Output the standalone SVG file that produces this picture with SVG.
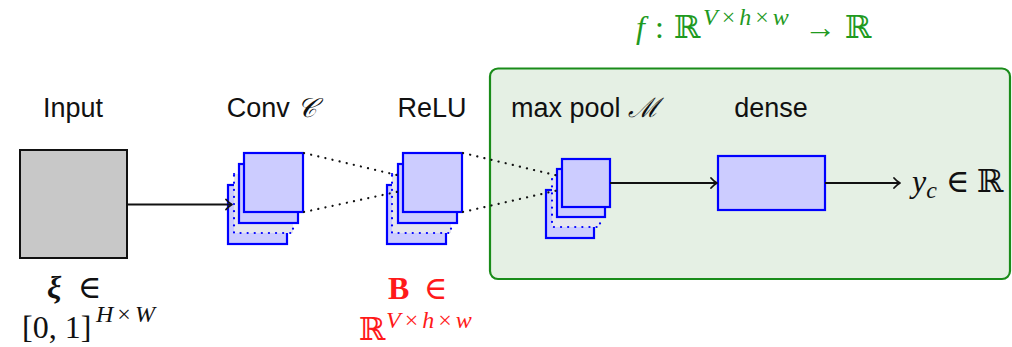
<svg xmlns="http://www.w3.org/2000/svg" width="1012" height="347" viewBox="0 0 1012 347">
<defs>
<style>
.lbl{font-family:"Liberation Sans",Arial,sans-serif;font-size:27px;fill:#111;text-anchor:middle}
.m{font-family:"Liberation Serif","DejaVu Serif",serif;font-size:32px;fill:#111}
.mi{font-style:italic}
.sup{font-size:24px}
.fm{fill:#ccccff;stroke:#0000ff;stroke-width:2.2}
.fd{fill:#e6e6ee;stroke:#0000ff;stroke-width:2.2;stroke-dasharray:0.1 7;stroke-linecap:round}
.dot{fill:none;stroke:#111;stroke-width:2.2;stroke-dasharray:0.1 7.2;stroke-linecap:round}
.ar{fill:none;stroke:#111;stroke-width:2}
.ah{fill:none;stroke:#111;stroke-width:1.8;stroke-linecap:round;stroke-linejoin:round}
</style>
</defs>
<g id="region-f">
<rect x="490" y="68.5" width="520" height="210.5" rx="8" fill="#e5f0e4" stroke="#1a8c1a" stroke-width="2.2"/>
<text y="38" class="m" style="fill:#1f9a1f"><tspan x="636" class="mi">f</tspan><tspan x="655">:</tspan><tspan x="674">ℝ</tspan><tspan x="703" class="mi sup" dy="-13">V</tspan><tspan dx="4" class="sup">×</tspan><tspan dx="4" class="mi sup">h</tspan><tspan dx="4" class="sup">×</tspan><tspan dx="4" class="mi sup">w</tspan><tspan x="804" dy="13">→</tspan><tspan x="845">ℝ</tspan></text>
</g>
<g id="input">
<text x="73" y="117" class="lbl">Input</text>
<rect x="20" y="150" width="107" height="108" fill="#c8c8c8" stroke="#111" stroke-width="2"/>
<text y="298" class="m"><tspan x="47" font-weight="bold" class="mi">ξ</tspan><tspan x="78">∈</tspan></text>
<text y="338" class="m"><tspan x="22">[0, 1]</tspan><tspan x="96" class="mi sup" dy="-16">H</tspan><tspan dx="4" class="sup">×</tspan><tspan dx="4" class="mi sup">W</tspan></text>
</g>
<g id="conv">
<text x="272" y="117" class="lbl">Conv <tspan font-family="'DejaVu Serif',serif" font-style="italic">𝒞</tspan></text>
<rect x="228" y="185" width="59" height="59" class="fm"/>
<rect x="234" y="174" width="59" height="59" class="fd"/>
<rect x="239" y="164" width="59" height="59" class="fm"/>
<rect x="244" y="153" width="59" height="59" class="fm"/>
</g>
<g id="relu">
<text x="432" y="117" class="lbl">ReLU</text>
<rect x="387" y="185" width="59" height="59" class="fm"/>
<rect x="392" y="174" width="59" height="59" class="fd"/>
<rect x="398" y="164" width="59" height="59" class="fm"/>
<rect x="403" y="153" width="59" height="59" class="fm"/>
<text y="299" class="m" style="fill:#ff1a1a"><tspan x="388" font-weight="bold">B</tspan><tspan x="424">∈</tspan></text>
<text y="340" class="m" style="fill:#ff1a1a"><tspan x="359">ℝ</tspan><tspan x="386" class="mi sup" dy="-12">V</tspan><tspan dx="4" class="sup">×</tspan><tspan dx="4" class="mi sup">h</tspan><tspan dx="4" class="sup">×</tspan><tspan dx="4" class="mi sup">w</tspan></text>
</g>
<g id="maxpool">
<text x="585" y="117" class="lbl">max pool <tspan font-family="'DejaVu Serif',serif" font-style="italic">ℳ</tspan></text>
<rect x="546" y="190" width="48" height="48" class="fm"/>
<rect x="552" y="179" width="48" height="48" class="fd"/>
<rect x="557" y="169" width="48" height="48" class="fm"/>
<rect x="562" y="159" width="48" height="48" class="fm"/>
</g>
<g id="dense">
<text x="771" y="117" class="lbl">dense</text>
<rect x="718" y="156" width="107" height="54" class="fm"/>
</g>
<g id="output">
<text y="192" class="m"><tspan x="912" class="mi">y</tspan><tspan class="mi sup" dy="6">c</tspan><tspan x="946" dy="-6">∈</tspan><tspan x="977">ℝ</tspan></text>
</g>
<g id="connectors">
<path class="ar" d="M127 204.5H231"/>
<path class="ah" d="M226 199.5Q229 203 232 204.5Q229 206 226 209.5"/>
<path class="ar" d="M610 183H716"/>
<path class="ah" d="M711 178Q714 181.5 717 183Q714 184.5 711 188"/>
<path class="ar" d="M825 183H899"/>
<path class="ah" d="M894 178Q897 181.5 900 183Q897 184.5 894 188"/>
<path class="dot" d="M304 153L401 176"/>
<path class="dot" d="M304 212L401 191"/>
<path class="dot" d="M463 153L559 176"/>
<path class="dot" d="M463 212L559 190"/>
</g>
</svg>
